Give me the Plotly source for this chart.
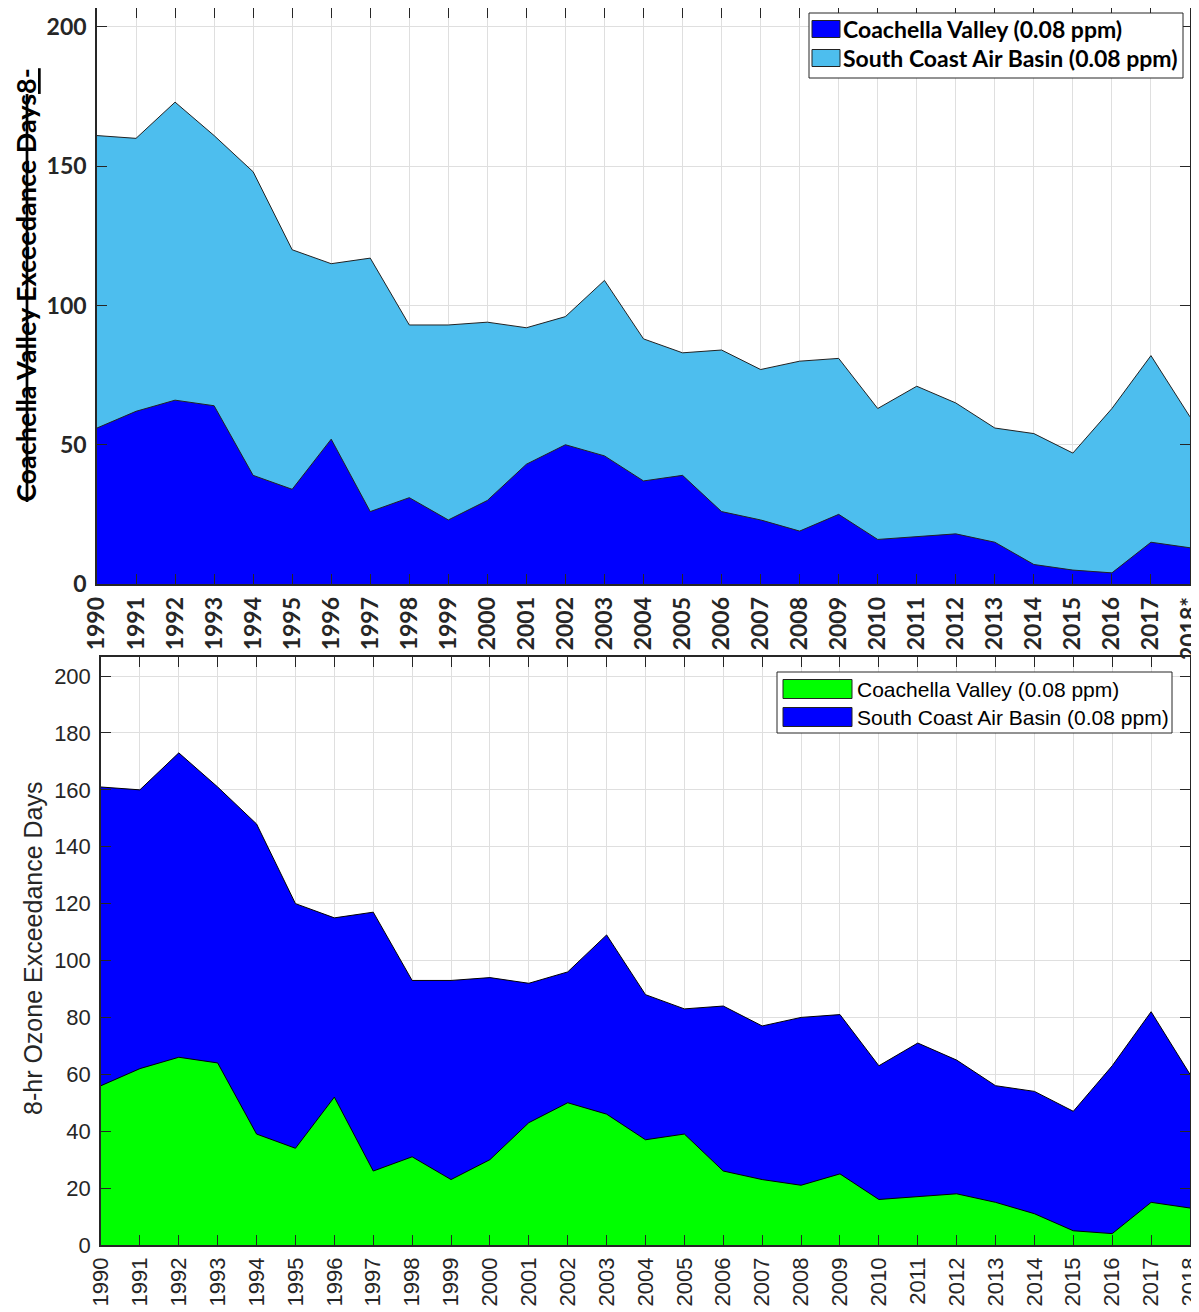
import plotly.graph_objects as go

# exceedance days
years = list(range(1990, 2019))
year_labels = [str(y) for y in years[:-1]] + ["2018*"]
year_labels_plain = [str(y) for y in years]

south_coast_days = [161, 160, 173, 161, 148, 120, 115, 117, 93, 93, 94, 92, 96, 109,
                    88, 83, 84, 77, 80, 81, 63, 71, 65, 56, 54, 47, 63, 82, 60]
coachella_days_top = [56, 62, 66, 64, 39, 34, 52, 26, 31, 23, 30, 43, 50, 46,
                      37, 39, 26, 23, 19, 25, 16, 17, 18, 15, 7, 5, 4, 15, 13]
coachella_days_bottom = [56, 62, 66, 64, 39, 34, 52, 26, 31, 23, 30, 43, 50, 46,
                         37, 39, 26, 23, 21, 25, 16, 17, 18, 15, 11, 5, 4, 15, 13]

cv_name = 'Coachella Valley (0.08 ppm)'
scab_name = 'South Coast Air Basin (0.08 ppm)'

W, H = 1199, 1312
OFF = 8  # page body margin shifts the whole figure
axis_col = '#262626'
grid_col = '#dfdfdf'
bold_font = dict(family='Lato', size=23, color=axis_col, weight='bold')
plain_font = dict(family='Liberation Sans, Arial', size=22, color=axis_col)


def px_x(x):
    return (x - OFF) / W


def px_y(y):
    return min(1.0, 1 - (y - OFF) / H)


fig = go.Figure()

# top panel
fig.add_trace(go.Scatter(
    x=years, y=south_coast_days, fill='tozeroy', mode='lines',
    fillcolor='#4DBEEE', line=dict(color='#222222', width=1),
    name=scab_name, xaxis='x', yaxis='y', showlegend=False,
))
fig.add_trace(go.Scatter(
    x=years, y=coachella_days_top, fill='tozeroy', mode='lines',
    fillcolor='#0000FF', line=dict(color='#222222', width=1),
    name=cv_name, xaxis='x', yaxis='y', showlegend=False,
))

# bottom panel
fig.add_trace(go.Scatter(
    x=years, y=south_coast_days, fill='tozeroy', mode='lines',
    fillcolor='#0000FF', line=dict(color='black', width=1),
    name=scab_name, xaxis='x2', yaxis='y2', showlegend=False,
))
fig.add_trace(go.Scatter(
    x=years, y=coachella_days_bottom, fill='tozeroy', mode='lines',
    fillcolor='#00FF00', line=dict(color='black', width=1),
    name=cv_name, xaxis='x2', yaxis='y2', showlegend=False,
))

axis_common = dict(
    showline=True, linecolor=axis_col, linewidth=1.5, mirror='ticks',
    ticks='inside', ticklen=10, tickcolor=axis_col, tickwidth=1,
    showgrid=True, gridcolor=grid_col, gridwidth=1, zeroline=False,
    automargin=False, ticklabeloverflow='allow',
)

fig.update_layout(
    width=W, height=H,
    margin=dict(l=0, r=0, t=0, b=0),
    paper_bgcolor='white', plot_bgcolor='white',
    showlegend=False,
    xaxis=dict(axis_common, domain=[px_x(97), px_x(1190)], anchor='y',
               range=[1990, 2018], tickvals=years, ticktext=year_labels,
               tickangle=-90, tickfont=bold_font, ticklabelstandoff=2),
    yaxis=dict(axis_common, domain=[px_y(584), px_y(8)], anchor='x',
               range=[0, 206.8], tickvals=[0, 50, 100, 150, 200],
               tickfont=bold_font, ticklabelstandoff=4),
    xaxis2=dict(axis_common, domain=[px_x(101), px_x(1190)], anchor='y2',
                range=[1990, 2018], tickvals=years, ticktext=year_labels_plain,
                tickangle=-90, tickfont=plain_font, ticklabelstandoff=2),
    yaxis2=dict(axis_common, domain=[px_y(1245), px_y(657)], anchor='x2',
                range=[0, 206.7], tickvals=list(range(0, 201, 20)),
                tickfont=plain_font, ticklabelstandoff=4),
)

# y axis titles
fig.add_annotation(
    x=px_x(25), y=px_y(285), xref='paper', yref='paper',
    xanchor='center', yanchor='middle', textangle=-90, showarrow=False,
    text='<span style="text-decoration:line-through">Coachella Valley Exceedance Days</span>'
         '<span style="text-decoration:underline">8-</span>',
    font=dict(family='Lato', size=27, color='black', weight='bold'),
)
fig.add_annotation(
    x=px_x(33), y=px_y(948), xref='paper', yref='paper',
    xanchor='center', yanchor='middle', textangle=-90, showarrow=False,
    text='8-hr Ozone Exceedance Days',
    font=dict(family='Liberation Sans, Arial', size=25, color=axis_col),
)


# legends drawn as boxed swatches with labels
def add_legend(box, entries, sw_x, text_x, sw_h, font):
    x0, y0, x1, y1 = box
    fig.add_shape(type='rect', xref='paper', yref='paper',
                  x0=px_x(x0), x1=px_x(x1), y0=px_y(y1), y1=px_y(y0),
                  line=dict(color=axis_col, width=1), fillcolor='white',
                  layer='above')
    for label, colour, yc in entries:
        fig.add_shape(type='rect', xref='paper', yref='paper',
                      x0=px_x(sw_x[0]), x1=px_x(sw_x[1]),
                      y0=px_y(yc + sw_h / 2), y1=px_y(yc - sw_h / 2),
                      line=dict(color='#222222', width=1), fillcolor=colour,
                      layer='above')
        fig.add_annotation(x=px_x(text_x), y=px_y(yc), xref='paper', yref='paper',
                           xanchor='left', yanchor='middle', showarrow=False,
                           text=label, font=font)


add_legend((809, 13, 1183, 78),
           [(cv_name, '#0000FF', 29), (scab_name, '#4DBEEE', 58)],
           (812, 840), 841, 17,
           dict(family='Lato', size=23, color='black', weight='bold'))
add_legend((777, 672, 1172, 733),
           [(cv_name, '#00FF00', 689), (scab_name, '#0000FF', 717)],
           (783, 852), 855, 19,
           dict(family='Liberation Sans, Arial', size=21, color='black'))

fig.write_html("out.html")
